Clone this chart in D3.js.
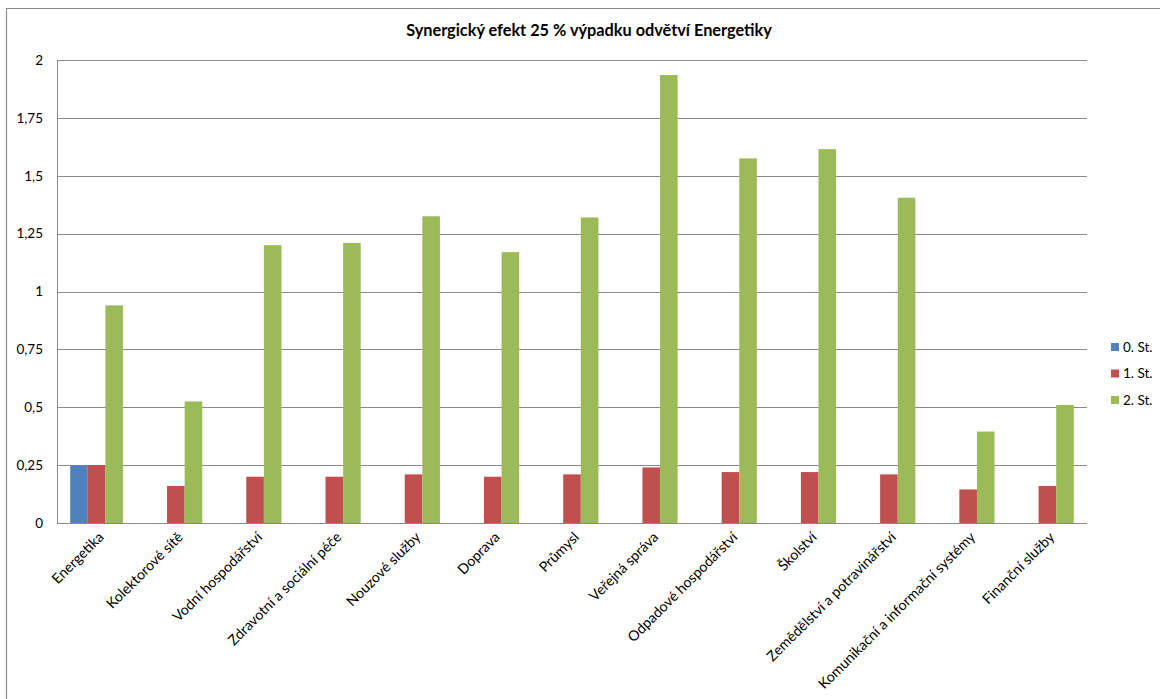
<!DOCTYPE html>
<html lang="cs">
<head>
<meta charset="utf-8">
<script src="https://cdn.jsdelivr.net/npm/d3@7"></script>
<style>
  html, body { margin: 0; padding: 0; background: #ffffff; }
  svg { display: block; }
  text { font-family: Lato, "Open Sans", "Noto Sans", sans-serif; fill: #000; }
</style>
</head>
<body>
<svg id="chart" width="1160" height="699"></svg>
<script>
// Odvětví (kategorie na ose x)
const categories = [
  "Energetika",
  "Kolektorové sítě",
  "Vodní hospodářství",
  "Zdravotní a sociální péče",
  "Nouzové služby",
  "Doprava",
  "Průmysl",
  "Veřejná správa",
  "Odpadové hospodářství",
  "Školství",
  "Zemědělství a potravinářství",
  "Komunikační a informační systémy",
  "Finanční služby"
];

// Názvy řad (stupně šíření)
const seriesNames = ["0. St.", "1. St.", "2. St."];

// Hodnoty jednotlivých řad
const stage0 = [0.25, 0, 0, 0, 0, 0, 0, 0, 0, 0, 0, 0, 0];
const stage1 = [0.25, 0.16, 0.20, 0.20, 0.21, 0.20, 0.21, 0.24, 0.22, 0.22, 0.21, 0.145, 0.16];
const stage2 = [0.94, 0.525, 1.20, 1.21, 1.325, 1.17, 1.32, 1.935, 1.575, 1.615, 1.405, 0.395, 0.51];

// Popisky osy y
const yTicks = [0, 0.25, 0.5, 0.75, 1, 1.25, 1.5, 1.75, 2];
const yTickLabels = ["0", "0,25", "0,5", "0,75", "1", "1,25", "1,5", "1,75", "2"];

const title = "Synergický efekt 25 % výpadku odvětví Energetiky";
const colors = ["#4F81BD", "#C0504D", "#9BBB59"];

const values = [stage0, stage1, stage2];
const rows = categories.map((c, i) => ({
  category: c,
  vals: seriesNames.map((s, k) => ({ series: s, value: values[k][i], color: colors[k] }))
}));

const svg = d3.select("#chart");

// Rám grafu
svg.append("path")
  .attr("d", "M6.5,710 L6.5,8.5 L1170,8.5")
  .attr("fill", "none")
  .attr("stroke", "#8c8c8c")
  .attr("stroke-width", 1.2);

const plot = { left: 57, right: 1087, top: 60, bottom: 523 };

const x0 = d3.scaleBand()
  .domain(categories)
  .range([plot.left, plot.right])
  .paddingInner(1 / 3)
  .paddingOuter(1 / 6);

const x1 = d3.scaleBand()
  .domain(seriesNames)
  .range([0, x0.bandwidth()]);

const y = d3.scaleLinear()
  .domain([0, 2])
  .range([plot.bottom, plot.top]);

// Vodorovné mřížky
const grid = svg.append("g").attr("class", "grid");
grid.selectAll("line")
  .data(yTicks.filter(t => t > 0))
  .join("line")
  .attr("x1", plot.left)
  .attr("x2", plot.right)
  .attr("y1", d => Math.round(y(d)) + 0.5)
  .attr("y2", d => Math.round(y(d)) + 0.5)
  .attr("stroke", "#8a8a8a")
  .attr("stroke-width", 1);

// Sloupce
const groups = svg.append("g").attr("class", "bars")
  .selectAll("g")
  .data(rows)
  .join("g")
  .attr("transform", d => `translate(${x0(d.category)},0)`);

groups.selectAll("rect")
  .data(d => d.vals.filter(v => v.value > 0))
  .join("rect")
  .attr("x", d => x1(d.series))
  .attr("width", x1.bandwidth())
  .attr("y", d => y(d.value))
  .attr("height", d => y(0) - y(d.value))
  .attr("fill", d => d.color);

// Osa y
const yAxis = d3.axisLeft(y)
  .tickValues(yTicks)
  .tickFormat((d, i) => yTickLabels[i])
  .tickSize(0)
  .tickPadding(14);

const gy = svg.append("g")
  .attr("transform", `translate(${plot.left},0)`)
  .call(yAxis);
gy.select(".domain").attr("stroke", "#8a8a8a").attr("d", `M0.5,${plot.top}V${plot.bottom + 0.5}`);
gy.selectAll("text")
  .style("font-size", "13.5px")
  .attr("fill", "#000");

// Osa x
const xAxis = d3.axisBottom(x0).tickSize(0).tickPadding(0);
const gx = svg.append("g")
  .attr("transform", `translate(0,${plot.bottom})`)
  .call(xAxis);
gx.select(".domain").attr("stroke", "#8a8a8a").attr("d", `M${plot.left},0.5H${plot.right}`);
gx.selectAll(".tick text")
  .style("font-size", "14.2px")
  .attr("fill", "#000")
  .attr("text-anchor", "end")
  .attr("dy", null)
  .attr("y", null)
  .attr("transform", "translate(8,15) rotate(-45)");

// Titulek
svg.append("text")
  .attr("x", 589)
  .attr("y", 36)
  .attr("text-anchor", "middle")
  .style("font-size", "16.3px")
  .style("font-weight", "bold")
  .text(title);

// Legenda
const legend = svg.append("g").attr("class", "legend")
  .selectAll("g")
  .data(seriesNames)
  .join("g")
  .attr("transform", (d, i) => `translate(1111,${343 + i * 26.5})`);

legend.append("rect")
  .attr("width", 8)
  .attr("height", 8)
  .attr("fill", (d, i) => colors[i]);

legend.append("text")
  .attr("x", 12)
  .attr("y", 8.5)
  .style("font-size", "13.5px")
  .text(d => d);
</script>
</body>
</html>
